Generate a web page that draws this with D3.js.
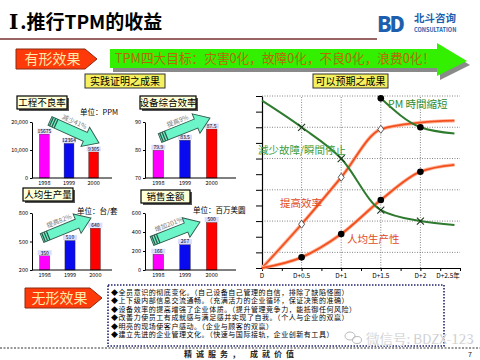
<!DOCTYPE html>
<html><head><meta charset="utf-8">
<script src="https://cdn.jsdelivr.net/npm/d3@7"></script>
<style>
body{margin:0;background:#fff}
svg{display:block}
text{font-family:"Noto Sans CJK SC","Noto Sans",sans-serif}
</style>
</head><body><svg id="c" width="480" height="360"></svg>
<script>
// ---------- data ----------
const years = ["1998", "1999", "2000"];
const defectValues = [15675, 12364, 9305];
const defectTicks = [0, 10000, 20000];
const oeeValues = [79.9, 83.5, 87.5];
const oeeTicks = [70, 80, 90];
const outputValues = [350, 510, 640];
const outputTicks = [200, 500, 800];
const salesValues = [166, 267, 500];
const salesTicks = [0, 200, 400, 600];
const chartTitles = ["工程不良率", "设备综合效率", "人均生产量", "销售金额"];
const unitLabels = ["单位：PPM", "", "单位：台/套", "单位：百万美圆"];
const trendLabels = ["减少41%", "提高9%", "提高82%", "增加201%"];

const periodLabels = ["D", "D+0.5", "D+1", "D+1.5", "D+2", "D+2.5年"];
const periodValues = [0, 0.5, 1, 1.5, 2, 2.5];
const failureX = [0, 0.5, 1, 1.5, 2, 2.43];
const failureY = [10.7, 9.0, 7.0, 3.7, 3.0, 2.75];
const pmX = [1.5, 2, 2.43];
const pmY = [10.85, 9.0, 8.6];
const efficiencyX = [0, 0.5, 1, 1.5, 2, 2.43];
const efficiencyY = [0, 2.8, 5.8, 8.87, 9.3, 9.42];
const productivityX = [0, 0.5, 1, 1.5, 2, 2.43];
const productivityY = [0, 0.68, 2.17, 4.35, 6.16, 6.6];
const curveLabels = ["PM 時間縮短", "減少故障/瞬間停止", "提高效率", "人均生产性"];

const bulletLines = [
  "◆全员意识的彻底变化。（自己设备自己管理的自信，排除了缺陷怪圈）",
  "◆上下级内部信息交流通畅。（充满活力的企业循环，保证决策的准确）",
  "◆设备效率的提高增强了企业体质。（提升管理竞争力，能抵御任何风险）",
  "◆改善力使员工有成就感与满足感并实现了自我。（个人与企业的双赢）",
  "◆明亮的现场使客户感动。（企业与顾客的双赢）",
  "◆建立先进的企业管理文化。（快速与国际接轨，企业创新有工具）"
];

// ---------- drawing ----------
const svg = d3.select("#c");

// title
const title = svg.append("text").attr("x", 9).attr("y", 29).attr("font-size", 19).attr("font-weight", "bold").attr("fill", "#000");
title.append("tspan").attr("font-family", "DejaVu Serif").attr("font-size", 20).text("I");
title.append("tspan").attr("dx", 2).text(".推行TPM的收益");
svg.append("line").attr("x1", 0).attr("x2", 377).attr("y1", 39).attr("y2", 39).attr("stroke", "#9a6464").attr("stroke-width", 2);

// logo
svg.append("text").attr("x", 377).attr("y", 32).attr("font-size", 21).attr("font-weight", 900)
  .attr("font-family", "DejaVu Sans").attr("fill", "#1d5fae").attr("letter-spacing", -2).text("BD");
svg.append("text").attr("x", 414).attr("y", 22).attr("font-size", 10.5).attr("font-weight", "bold").attr("fill", "#1d5fae").text("北斗咨询");
svg.append("text").attr("x", 414).attr("y", 31.5).attr("font-size", 5.6).attr("font-weight", "bold").attr("font-family", "DejaVu Sans").attr("fill", "#1d5fae").text("CONSULTATION");

// pentagon label
function pentagon(x, y, w, h, label) {
  svg.append("polygon")
    .attr("points", [[x, y], [x + w - 12, y], [x + w, y + h / 2], [x + w - 12, y + h], [x, y + h]].map(p => p.join(",")).join(" "))
    .attr("fill", "#ff3a0a").attr("stroke", "#8a2a10").attr("stroke-width", 1);
  svg.append("text").attr("x", x + (w - 12) / 2 + 2).attr("y", y + h / 2 + 5).attr("text-anchor", "middle")
    .attr("font-size", 14).attr("fill", "#ffeaa8").text(label);
}
pentagon(16, 49, 81, 20, "有形效果");
pentagon(25, 288, 77, 20, "无形效果");

// green banner arrow
const bannerPts = [[110, 49], [437, 49], [437, 43], [467, 61], [437, 76], [437, 68], [110, 68]];
svg.append("polygon").attr("points", bannerPts.map(p => [p[0] + 3, p[1] + 4].join(",")).join(" ")).attr("fill", "#8a8a8a");
svg.append("polygon").attr("points", bannerPts.map(p => p.join(",")).join(" ")).attr("fill", "#33f000");
svg.append("text").attr("x", 115).attr("y", 63).attr("font-size", 13).attr("fill", "#b86a00")
  .attr("textLength", 320).attr("lengthAdjust", "spacingAndGlyphs")
  .text("TPM四大目标：灾害0化，故障0化，不良0化，浪费0化！");

// yellow tag boxes
function tag(x, y, w, h, label) {
  svg.append("rect").attr("x", x).attr("y", y).attr("width", w).attr("height", h).attr("fill", "#f4f060").attr("stroke", "#333").attr("stroke-width", 1);
  svg.append("text").attr("x", x + w / 2).attr("y", y + h - 3.5).attr("text-anchor", "middle").attr("font-size", 10).attr("fill", "#000").text(label);
}
tag(85, 74, 80, 14, "实践证明之成果");
tag(313, 74, 75, 14, "可以预期之成果");

// boxed chart title with shadow
function boxTitle(x, y, w, h, label) {
  svg.append("rect").attr("x", x + 2).attr("y", y + 2).attr("width", w).attr("height", h).attr("fill", "#555");
  svg.append("rect").attr("x", x).attr("y", y).attr("width", w).attr("height", h).attr("fill", "#ffffd8").attr("stroke", "#000").attr("stroke-width", 1.2);
  svg.append("text").attr("x", x + w / 2).attr("y", y + h - 3).attr("text-anchor", "middle").attr("font-size", 9.5).attr("fill", "#000").text(label);
}

// fat trend arrow
function trendArrow(x1, y1, x2, y2, label) {
  const ang = Math.atan2(y2 - y1, x2 - x1) * 180 / Math.PI;
  const len = Math.hypot(x2 - x1, y2 - y1);
  const g = svg.append("g").attr("transform", `translate(${x1},${y1}) rotate(${ang})`);
  const hw = 4.8, hh = 10.5, hl = 15;
  g.append("polygon")
    .attr("points", [[0, -hw], [len - hl, -hw], [len - hl, -hh], [len, 0], [len - hl, hh], [len - hl, hw], [0, hw]].map(p => p.join(",")).join(" "))
    .attr("fill", "#6cf5c8").attr("stroke", "#2f5a4c").attr("stroke-width", 0.9);
  [1, 3.5, 6].forEach(s => g.append("rect").attr("x", s).attr("y", -hw).attr("width", 1.3).attr("height", 2 * hw).attr("fill", "#2f5a4c"));
  g.append("text").attr("x", len * 0.42).attr("y", -7).attr("text-anchor", "middle").attr("font-size", 6.5).attr("fill", "#777").text(label);
}

// bar chart
const barColors = ["#ff00ff", "#0a0aee", "#ff0000"];
function barChart(cfg) {
  const y = d3.scaleLinear().domain([cfg.ticks[0], cfg.ticks[cfg.ticks.length - 1]]).range([cfg.base, cfg.top]);
  const x = d3.scaleBand().domain(years).range([cfg.x0, cfg.x1]).paddingInner(0.6).paddingOuter(0.3);
  const g = svg.append("g");
  g.selectAll("rect.bar").data(cfg.values).join("rect").attr("class", "bar")
    .attr("x", (d, i) => x(years[i])).attr("width", x.bandwidth())
    .attr("y", d => y(d)).attr("height", d => cfg.base - y(d))
    .attr("fill", (d, i) => barColors[i]).attr("stroke", "#333").attr("stroke-width", 0.4);
  g.selectAll("rect.lab").data(cfg.values).join("rect").attr("class", "lab")
    .attr("x", (d, i) => x(years[i]) + x.bandwidth() / 2 - 7).attr("y", d => y(d) - 5.5).attr("width", 14).attr("height", 5)
    .attr("fill", "#dcdcff");
  g.selectAll("text.val").data(cfg.values).join("text").attr("class", "val")
    .attr("x", (d, i) => x(years[i]) + x.bandwidth() / 2).attr("y", d => y(d) - 1.2)
    .attr("text-anchor", "middle").attr("font-size", 5).attr("font-family", "DejaVu Sans").attr("fill", "#000").text(d => d);
  // axes
  const ax = g.append("g").attr("transform", `translate(${cfg.x0},0)`)
    .call(d3.axisLeft(y).tickValues(cfg.ticks).tickSize(2).tickSizeOuter(0));
  ax.select(".domain").attr("stroke", "#000");
  ax.selectAll("text").attr("font-size", 5.5).attr("font-family", "DejaVu Sans").attr("dx", 1);
  g.append("line").attr("x1", cfg.x0).attr("x2", cfg.xEnd).attr("y1", cfg.base).attr("y2", cfg.base).attr("stroke", "#000").attr("stroke-width", 1);
  g.selectAll("text.yr").data(years).join("text").attr("class", "yr")
    .attr("x", d => x(d) + x.bandwidth() / 2).attr("y", cfg.base + 6.5).attr("text-anchor", "middle")
    .attr("font-size", 5.5).attr("font-family", "DejaVu Sans").attr("fill", "#000").text(d => d);
}

barChart({ values: defectValues, ticks: defectTicks, x0: 32, x1: 106, xEnd: 112, base: 178, top: 122 });
barChart({ values: oeeValues, ticks: oeeTicks, x0: 145, x1: 225, xEnd: 236, base: 178, top: 122 });
barChart({ values: outputValues, ticks: outputTicks, x0: 32, x1: 108, xEnd: 112, base: 270, top: 213 });
barChart({ values: salesValues, ticks: salesTicks, x0: 145, x1: 225, xEnd: 236, base: 270, top: 213 });

boxTitle(17, 96, 50, 13, chartTitles[0]);
boxTitle(140, 96, 56, 13, chartTitles[1]);
boxTitle(23, 188, 50, 13, chartTitles[2]);
boxTitle(141, 190, 49, 13, chartTitles[3]);

svg.append("text").attr("x", 80).attr("y", 115).attr("font-size", 7.5).attr("fill", "#000").text(unitLabels[0]);
svg.append("text").attr("x", 77).attr("y", 214).attr("font-size", 7.5).attr("fill", "#000").text(unitLabels[2]);
svg.append("text").attr("x", 193).attr("y", 213).attr("font-size", 7.5).attr("fill", "#000").text(unitLabels[3]);

trendArrow(50, 121, 99, 143, trendLabels[0]);
trendArrow(160, 138, 210, 118, trendLabels[1]);
trendArrow(42, 238, 91, 218, trendLabels[2]);
trendArrow(152, 241, 200, 222, trendLabels[3]);

// ---------- line chart ----------
const lx = d3.scaleLinear().domain([0, 2.5]).range([262, 460]);
const ly = d3.scaleLinear().domain([0, 11]).range([268, 96]);
const lg = svg.append("g");
[1, 3, 5, 7, 9, 11].forEach(v => lg.append("line").attr("x1", lx(0)).attr("x2", lx(2.5)).attr("y1", ly(v)).attr("y2", ly(v))
  .attr("stroke", "#666").attr("stroke-dasharray", "1,1.5").attr("stroke-width", 0.8));
[0.5, 1, 1.5, 2].forEach(v => lg.append("line").attr("x1", lx(v)).attr("x2", lx(v)).attr("y1", ly(0)).attr("y2", ly(11))
  .attr("stroke", "#666").attr("stroke-dasharray", "1,1.5").attr("stroke-width", 0.8));
const yAx = lg.append("g").attr("transform", `translate(${lx(0)},0)`)
  .call(d3.axisLeft(ly).tickValues(d3.range(0, 12)).tickSize(6).tickSizeOuter(0).tickFormat(""));
const xAx = lg.append("g").attr("transform", `translate(0,${ly(0)})`)
  .call(d3.axisBottom(lx).tickValues(d3.range(0, 2.51, 0.25)).tickSize(3).tickSizeOuter(0).tickFormat(""));
[yAx, xAx].forEach(a => { a.select(".domain").attr("stroke", "#000").attr("stroke-width", 1.2); a.selectAll("line").attr("stroke", "#000"); });
lg.selectAll("text.per").data(periodValues).join("text").attr("class", "per")
  .attr("x", (d, i) => lx(d) + (i === periodValues.length - 1 ? -12 : 0)).attr("y", 278)
  .attr("text-anchor", "middle").attr("font-size", 6.5).attr("fill", "#000").text((d, i) => periodLabels[i]);

const line = d3.line().x(d => lx(d[0])).y(d => ly(d[1])).curve(d3.curveMonotoneX);
const zip = (xs, ys) => xs.map((x, i) => [x, ys[i]]);
const green = "#2e7a2e", orange = "#f2501e";
[[efficiencyX, efficiencyY, orange], [productivityX, productivityY, orange]].forEach(([xs, ys, c]) => {
  lg.append("path").attr("d", line(zip(xs, ys))).attr("fill", "none").attr("stroke", "#ffb49a").attr("stroke-width", 3.6);
  lg.append("path").attr("d", line(zip(xs, ys))).attr("fill", "none").attr("stroke", c).attr("stroke-width", 1.8);
});
[[failureX, failureY], [pmX, pmY]].forEach(([xs, ys]) => {
  lg.append("path").attr("d", line(zip(xs, ys))).attr("fill", "none").attr("stroke", green).attr("stroke-width", 2);
});
// markers
zip(failureX, failureY).slice(1, 5).forEach(p => {
  const cx = lx(p[0]), cy = ly(p[1]);
  lg.append("path").attr("d", `M${cx - 3.5},${cy - 3.5}L${cx + 3.5},${cy + 3.5}M${cx - 3.5},${cy + 3.5}L${cx + 3.5},${cy - 3.5}`)
    .attr("stroke", "#1a3a1a").attr("stroke-width", 1.1);
});
zip(efficiencyX, efficiencyY).slice(1, 4).forEach(p => {
  const cx = lx(p[0]), cy = ly(p[1]);
  lg.append("path").attr("d", `M${cx},${cy - 4}L${cx + 3},${cy}L${cx},${cy + 4}L${cx - 3},${cy}Z`)
    .attr("fill", "#fff").attr("stroke", "#333").attr("stroke-width", 0.8);
});
zip(productivityX, productivityY).slice(1, 5).concat(zip(pmX, pmY).slice(0, 2)).forEach(p => {
  lg.append("circle").attr("cx", lx(p[0])).attr("cy", ly(p[1])).attr("r", 3.3).attr("fill", "#000");
});
lg.append("text").attr("x", 388).attr("y", 108).attr("font-size", 10.5).attr("fill", "#2e8a2e").text(curveLabels[0]);
lg.append("text").attr("x", 258).attr("y", 154).attr("font-size", 10.5).attr("fill", "#3c9c3c").text(curveLabels[1]);
lg.append("text").attr("x", 280).attr("y", 207).attr("font-size", 10.5).attr("fill", "#e24a1c").text(curveLabels[2]);
lg.append("text").attr("x", 347).attr("y", 243).attr("font-size", 10.5).attr("fill", "#e24a1c").text(curveLabels[3]);

// ---------- bottom ----------
svg.append("line").attr("x1", 0).attr("x2", 480).attr("y1", 348).attr("y2", 348)
  .attr("stroke", "#333").attr("stroke-dasharray", "2,1.5").attr("stroke-width", 1);
svg.append("rect").attr("x", 108).attr("y", 285).attr("width", 336).attr("height", 61)
  .attr("fill", "#fff").attr("stroke", "#23236e").attr("stroke-width", 1.6).attr("stroke-dasharray", "1.5,1.5");
const by = [294.5, 303, 311.5, 320, 328.5, 337];
svg.selectAll("text.bul").data(bulletLines).join("text").attr("class", "bul")
  .attr("x", 111).attr("y", (d, i) => by[i]).attr("font-size", 7).attr("letter-spacing", 0.55).attr("fill", "#000").text(d => d);

// watermark
svg.append("ellipse").attr("cx", 350).attr("cy", 336).attr("rx", 5).attr("ry", 4).attr("fill", "none").attr("stroke", "#bbb").attr("stroke-width", 1);
svg.append("ellipse").attr("cx", 357).attr("cy", 340).attr("rx", 4.5).attr("ry", 3.5).attr("fill", "none").attr("stroke", "#bbb").attr("stroke-width", 1);
svg.append("text").attr("x", 366).attr("y", 344).attr("font-size", 13.5).attr("fill", "#b0b0b0")
  .attr("stroke", "#fff").attr("stroke-width", 0.4).text("微信号: BDZX-123");

svg.append("text").attr("x", 241).attr("y", 357).attr("text-anchor", "middle").attr("font-size", 8).attr("font-weight", "bold")
  .attr("fill", "#222").attr("letter-spacing", 4).style("white-space", "pre").text("精诚服务， 成就价值");
svg.append("text").attr("x", 468).attr("y", 357).attr("font-size", 7).attr("fill", "#222").text("7");
</script>
</body></html>
